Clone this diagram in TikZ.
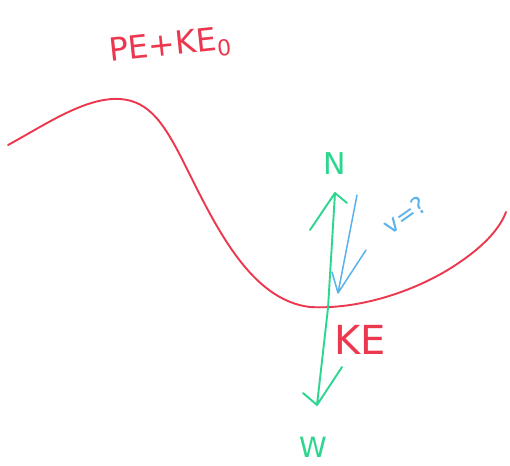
\documentclass[tikz,border=0pt]{standalone}
\usepackage{fontspec}
\setmainfont{DejaVu Sans}
\definecolor{penred}{RGB}{236,56,78}
\definecolor{pengreen}{RGB}{44,214,142}
\definecolor{penblue}{RGB}{90,178,235}
\tikzset{
  ink/.style={line width=1.9pt, line cap=round, line join=round},
  lbl/.style={inner sep=0pt},
}
\begin{document}
\begin{tikzpicture}[x=1pt,y=-1pt]
\useasboundingbox[fill=white] (0,0) rectangle (510,465);
% track
\draw[ink, penred] (8,145) .. controls (45,125) and (85,97) .. (120,99)
  .. controls (150,101) and (165,125) .. (185,165)
  .. controls (215,225) and (250,300) .. (310,307)
  .. controls (360,310) and (420,290) .. (460,262)
  .. controls (485,245) and (500,228) .. (506,212);
% labels
\node[lbl, text=penred, rotate=6, font=\fontsize{32}{32}\selectfont] (pe) at (170,47) {PE+KE\raisebox{-0.35ex}{\fontsize{22}{22}\selectfont 0}};
\node[lbl, text=penred, font=\fontsize{40}{40}\selectfont] (ke) at (360,340) {KE};
\node[lbl, text=pengreen, font=\fontsize{30}{30}\selectfont] (n) at (335,164) {N};
\node[lbl, text=pengreen, font=\fontsize{28}{28}\selectfont] (w) at (313,447) {W};
\node[lbl, text=penblue, rotate=35, font=\fontsize{24}{24}\selectfont] (v) at (405,215) {v=?};
% normal force
\coordinate (base) at (328,308);
\coordinate (ntip) at (335,193);
\coordinate (nl) at (310,230);
\coordinate (nr) at (347,203);
\draw[ink, pengreen] (base) -- (ntip) (nl) -- (ntip) -- (nr);
% weight
\coordinate (wtip) at (317,405);
\coordinate (wl) at (303,393);
\coordinate (wr) at (342,367);
\draw[ink, pengreen] (base) -- (wtip) (wl) -- (wtip) -- (wr);
% velocity
\coordinate (vtop) at (357,195);
\coordinate (vtip) at (338,293);
\coordinate (vl) at (332,272);
\coordinate (vr) at (366,250);
\draw[ink, penblue, line width=1.5pt] (vtop) -- (vtip) (vl) -- (vtip) -- (vr);
\end{tikzpicture}
\end{document}
